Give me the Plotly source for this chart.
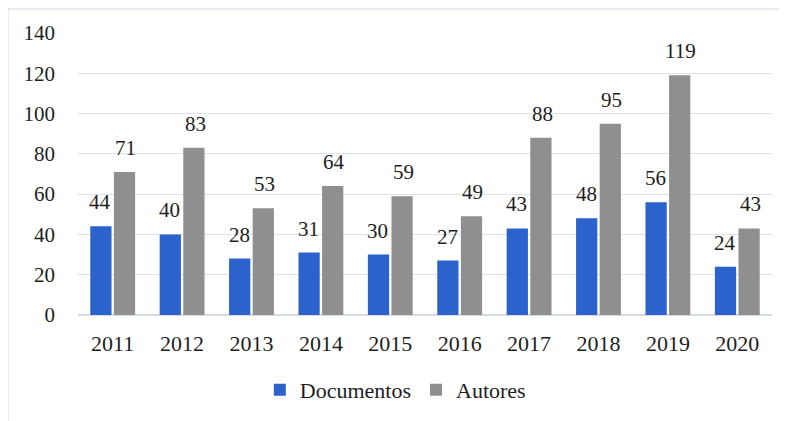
import plotly.graph_objects as go

years = ["2011", "2012", "2013", "2014", "2015", "2016", "2017", "2018", "2019", "2020"]
documentos = [44, 40, 28, 31, 30, 27, 43, 48, 56, 24]
autores = [71, 83, 53, 64, 59, 49, 88, 95, 119, 43]
y_ticks = [0, 20, 40, 60, 80, 100, 120, 140]

FONT = "Liberation Serif, Times New Roman, serif"
BLUE = "#2b62cc"
GRAY = "#8f8f8f"
TXT = "#1e1e1e"

fig = go.Figure()
fig.add_trace(go.Bar(x=years, y=documentos, name="Documentos", marker=dict(color=BLUE, line=dict(width=0))))
fig.add_trace(go.Bar(x=years, y=autores, name="Autores", marker=dict(color=GRAY, line=dict(width=0))))

annotations = []
for i, yr in enumerate(years):
    for val, shift in ((documentos[i], -12.5), (autores[i], 13)):
        annotations.append(dict(x=i, y=val, xref="x", yref="y", text=str(val), showarrow=False,
                                xshift=shift, yshift=10, yanchor="bottom",
                                font=dict(family=FONT, size=21, color=TXT)))

# the page body adds 8px offset; figure is sized/margined to compensate
fig.update_layout(
    width=779, height=413,
    margin=dict(l=70, r=15, t=25, b=106, autoexpand=False),
    paper_bgcolor="white", plot_bgcolor="white",
    barmode="group", bargap=0.32, bargroupgap=0.1,
    font=dict(family=FONT, size=21, color=TXT),
    showlegend=True,
    legend=dict(orientation="h", x=0.262, xanchor="left", y=-0.266, yanchor="middle",
                font=dict(family=FONT, size=22, color=TXT), itemwidth=30,
                traceorder="normal"),
    annotations=annotations,
    shapes=[
        dict(type="line", xref="paper", yref="paper", x0=-0.101, x1=1.03, y0=1.085, y1=1.085,
             line=dict(color="#dfe3e8", width=1.5)),
        dict(type="line", xref="paper", yref="paper", x0=-0.101, x1=-0.101, y0=1.085, y1=-0.4,
             line=dict(color="#dfe3e8", width=1.5)),
    ],
)
fig.update_yaxes(range=[0, 140], tickvals=y_ticks, showgrid=True, gridcolor="#dde3ea", gridwidth=1,
                 zeroline=True, zerolinecolor="#d5dbe3", zerolinewidth=1.5,
                 ticklabelstandoff=22, showline=False, fixedrange=True,
                 tickfont=dict(family=FONT, size=21, color=TXT))
fig.update_xaxes(type="category", showgrid=False, showline=False, ticklabelstandoff=13, fixedrange=True,
                 tickfont=dict(family=FONT, size=22, color=TXT))

fig.write_html("out.html")
